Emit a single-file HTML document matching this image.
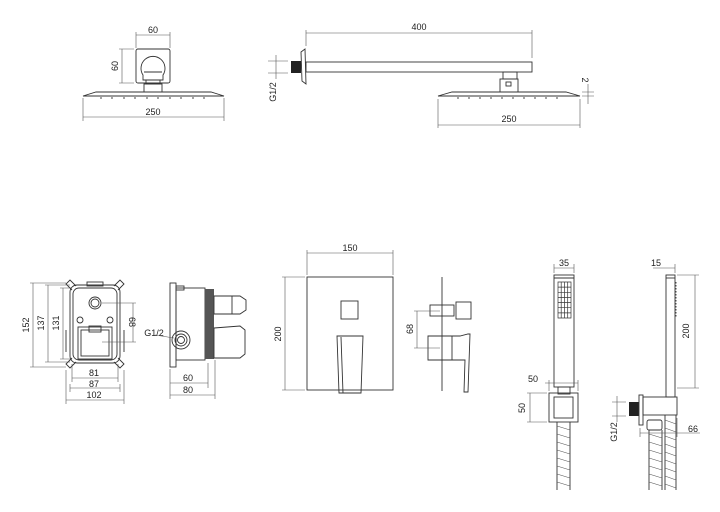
<!DOCTYPE html>
<html><head><meta charset="utf-8"><style>
html,body{margin:0;padding:0;background:#fff;}
svg{display:block;}
text{font-family:"Liberation Sans",sans-serif;font-size:9px;fill:#222;}
.l{stroke:#333;stroke-width:0.9;fill:none;}
.t{stroke:#555;stroke-width:0.6;fill:none;}
.f{stroke:#333;stroke-width:0.9;fill:#fff;}
</style></head><body>
<svg width="720" height="512" viewBox="0 0 720 512" xmlns="http://www.w3.org/2000/svg">
<g>
<rect class="l" x="136" y="49" width="34" height="34" rx="2"/>
<path class="l" d="M143 75 A12 12 0 1 1 163 75 L163 80 L143 80 Z"/>
<line class="l" x1="144" y1="72" x2="162" y2="72"/>
<rect class="l" x="146" y="80" width="14" height="4"/>
<rect class="l" x="144" y="84" width="18" height="8"/>
<path class="l" d="M83 96 L96 92 L211 92 L224 96 Z"/>
<g class="l">
<path d="M101 97v2M112 97v2M124 97v2M135 97v2M147 97v2M158 97v2M170 97v2M181 97v2M193 97v2M204 97v2"/>
</g>
<path class="t" d="M136 48V32M170 48V32M136 35H170M134 49H119M134 83H119M122 49V83M83 98V121M224 98V121M83 117H224"/>
<text x="153" y="33" text-anchor="middle">60</text>
<text x="118" y="66" text-anchor="middle" transform="rotate(-90 118 66)">60</text>
<text x="153" y="115" text-anchor="middle">250</text>
</g>
<g>
<rect x="291" y="61" width="10" height="12" fill="#222"/>
<path class="l" d="M301 52 L305 49 L306 84 L302 81 Z"/>
<rect class="l" x="306" y="62" width="226" height="10"/>
<rect class="l" x="503" y="72" width="14" height="7"/>
<rect class="l" x="500" y="79" width="18" height="13"/>
<rect class="l" x="506" y="82" width="5" height="4"/>
<path class="l" d="M438 96 L452 92 L566 92 L580 96 Z"/>
<g class="l"><path d="M458 97v2M469 97v2M480 97v2M491 97v2M502 97v2M513 97v2M524 97v2M535 97v2M546 97v2M557 97v2"/></g>
<path class="t" d="M306 46V30M532 58V30M306 33H532M268 61H288M268 73H288M276 55V79M438 99V128M580 99V128M438 125H580M582 92H594M582 96H594M588 84V104"/>
<text x="419" y="30" text-anchor="middle">400</text>
<text x="276" y="92" text-anchor="middle" transform="rotate(-90 276 92)">G1/2</text>
<text x="509" y="122" text-anchor="middle">250</text>
<text x="582" y="80" text-anchor="middle" transform="rotate(90 582 80)">2</text>
</g>
<g>
<rect class="l" x="87" y="282" width="16" height="4"/>
<rect class="l" x="70" y="285" width="50" height="78" rx="7"/>
<rect class="l" x="73" y="288" width="44" height="72" rx="6"/>
<path class="l" d="M76 286 L70 280 L66 284 L72 290 M114 286 L120 280 L124 284 L118 290 M76 362 L70 368 L66 364 L72 358 M114 362 L120 368 L124 364 L118 358"/>
<circle class="l" cx="95" cy="303" r="6"/><circle class="l" cx="95" cy="303" r="4"/>
<circle class="l" cx="80" cy="320" r="3"/><circle class="l" cx="110" cy="320" r="3"/>
<rect class="l" x="78" y="327" width="34" height="32"/>
<rect class="l" x="81" y="330" width="28" height="26"/>
<rect class="l" x="89" y="326" width="12" height="6"/>
<path class="l" d="M66 330V352M124 330V352"/>
<path class="t" d="M30 283H66M33 283V367M30 367H66M45 285H70M48 285V362M45 362H70M60 288H72M63 288V359M60 359H72M102 303H136M102 342H136M133 303V342M72 364V382M118 364V382M72 378H118M70 384V392M120 384V392M70 388H120M66 370V404M124 370V404M66 400H124"/>
<text x="29" y="325" text-anchor="middle" transform="rotate(-90 29 325)">152</text>
<text x="44" y="323" text-anchor="middle" transform="rotate(-90 44 323)">137</text>
<text x="59" y="323" text-anchor="middle" transform="rotate(-90 59 323)">131</text>
<text x="129" y="322" text-anchor="middle" transform="rotate(90 129 322)">68</text>
<text x="94" y="376" text-anchor="middle">81</text>
<text x="94" y="387" text-anchor="middle">87</text>
<text x="94" y="398" text-anchor="middle">102</text>
</g>
<g>
<rect class="l" x="170" y="283" width="6" height="84"/>
<rect class="l" x="176" y="286" width="8" height="4"/>
<rect class="l" x="176" y="288" width="29" height="72"/>
<rect x="205" y="289" width="9" height="70" fill="#555"/>
<path class="l" d="M214 296 L240 296 L246 300 L246 310 L240 314 L214 314 Z M232 296V314"/>
<path class="l" d="M214 328 L240 326 L245 330 L245 354 L240 358 L214 358 Z"/>
<circle class="l" cx="181" cy="340" r="9"/><circle class="l" cx="181" cy="340" r="6"/><circle class="l" cx="181" cy="340" r="3.5"/>
<path class="t" d="M155 335 L174 338M170 369V399M208 363V388M215 360V399M170 383H208M170 395H215"/>
<text x="154" y="336" text-anchor="middle">G1/2</text>
<text x="188" y="381" text-anchor="middle">60</text>
<text x="188" y="393" text-anchor="middle">80</text>
</g>
<g>
<rect class="l" x="307" y="277" width="86" height="113"/>
<rect class="l" x="341" y="301" width="17" height="18"/>
<path class="l" d="M337 336 H363 L361 393 H339 Z M341 337 L343 393"/>
<path class="t" d="M307 275V250M393 275V250M307 253H393M305 277H282M305 390H282M285 277V390"/>
<text x="350" y="251" text-anchor="middle">150</text>
<text x="281" y="334" text-anchor="middle" transform="rotate(-90 281 334)">200</text>
</g>
<g>
<line class="l" x1="442" y1="277" x2="442" y2="391"/>
<rect class="l" x="430" y="305" width="24" height="11"/>
<rect class="l" x="456" y="302" width="15" height="17"/>
<path class="l" d="M428 336 H460 L468 334 H470 L468 392 H464 L465 360 H428 Z M452 336V360"/>
<path class="t" d="M414 311H440M414 348H440M417 311V348"/>
<text x="413" y="329" text-anchor="middle" transform="rotate(-90 413 329)">68</text>
</g>
<g>
<rect class="l" x="554" y="275" width="20" height="112"/>
<line class="l" x1="554" y1="278" x2="574" y2="278"/>
<g fill="none" stroke="#333" stroke-width="0.7">
<path d="M558 282h13v36h-13zM561.2 282v36M564.5 282v36M567.7 282v36M558 287.1h13M558 292.3h13M558 297.4h13M558 302.6h13M558 307.7h13M558 312.9h13"/>
</g>
<rect class="l" x="549" y="393" width="29" height="29"/>
<rect class="l" x="554" y="397" width="19" height="21"/>
<rect class="l" x="558" y="387" width="12" height="7"/>
<path class="l" d="M557 422 V490 M570 422 V490"/>
<path class="t" d="M557 426 L570 430 M557 434 L570 438 M557 442 L570 446 M557 450 L570 454 M557 458 L570 462 M557 466 L570 470 M557 474 L570 478 M557 482 L570 486"/>
<path class="t" d="M554 273V264M574 273V264M554 268H574M549 391V380M578 391V380M545 383H578M527 393H547M527 422H547M530 393V422"/>
<text x="564" y="266" text-anchor="middle">35</text>
<text x="533" y="382" text-anchor="middle">50</text>
<text x="525" y="408" text-anchor="middle" transform="rotate(-90 525 408)">50</text>
</g>
<g>
<rect class="l" x="666" y="275" width="9" height="122"/>
<line class="l" x1="666" y1="278" x2="675" y2="278"/>
<path class="l" d="M676 282V318" stroke-dasharray="1.5 1.5"/>
<rect x="629" y="402" width="10" height="14" fill="#222"/>
<rect class="l" x="639" y="395" width="4" height="30"/>
<rect class="l" x="643" y="397" width="34" height="18"/>
<rect class="l" x="647" y="420" width="15" height="10" rx="2"/>
<path class="l" d="M649 430 V490 M662 430 V490 M665 415 V490 M676 415 V490"/>
<path class="t" d="M649 434 L662 438 M649 442 L662 446 M649 450 L662 454 M649 458 L662 462 M649 466 L662 470 M649 474 L662 478 M649 482 L662 486 M665 420 L676 424 M665 428 L676 432 M665 436 L676 440 M665 444 L676 448 M665 452 L676 456 M665 460 L676 464 M665 468 L676 472 M665 476 L676 480 M665 484 L676 488"/>
<path class="t" d="M653 268H675M675 273V264M677 275H699M677 388H699M695 275V388M612 402H626M612 416H626M617 396V422M640 428V437M677 418V437M640 433H700"/>
<text x="656" y="266" text-anchor="middle">15</text>
<text x="689" y="331" text-anchor="middle" transform="rotate(-90 689 331)">200</text>
<text x="617" y="432" text-anchor="middle" transform="rotate(-90 617 432)">G1/2</text>
<text x="693" y="432" text-anchor="middle">66</text>
</g>
</svg>
</body></html>
